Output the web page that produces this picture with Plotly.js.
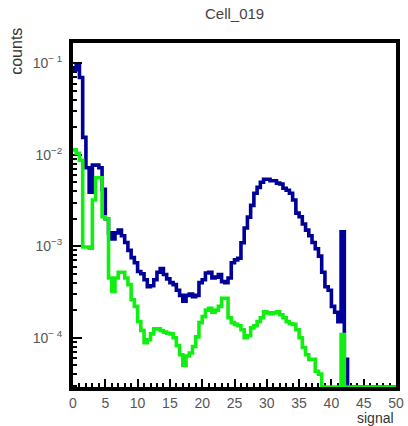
<!DOCTYPE html>
<html>
<head>
<meta charset="utf-8">
<script src="https://cdn.plot.ly/plotly-3.0.1.min.js"></script>
<style>html,body{margin:0;padding:0;background:#fff;}#chart{width:408px;height:426px;}</style>
</head>
<body>
<div id="chart"></div>
<script>
// Histogram definition: 100 bins of width 0.5 starting at 0
const binLow = 0;
const binWidth = 0.5;

// Bin contents (dark blue histogram)
const blueCounts = [
  0.085, 0.095, 0.070, 0.0155, 0.0072, 0.0039, 0.0077, 0.0077, 0.0072, 0.0042,
  0.0020, 0.0014, 0.0012, 0.0014, 0.0015, 0.0013, 0.0011, 0.00090, 0.00075, 0.00066,
  0.00053, 0.00050, 0.00043, 0.00036, 0.00037, 0.00043, 0.00052, 0.00057, 0.00049, 0.00044,
  0.00040, 0.00038, 0.00033, 0.00029, 0.00025, 0.00029, 0.00030, 0.00028, 0.00029, 0.00040,
  0.00043, 0.00051, 0.00052, 0.00045, 0.00046, 0.00049, 0.00041, 0.00040, 0.00045, 0.00066,
  0.00071, 0.00074, 0.00109, 0.00158, 0.00208, 0.0028, 0.0038, 0.0044, 0.0050, 0.0054,
  0.0054, 0.0052, 0.0052, 0.0049, 0.0048, 0.0043, 0.0041, 0.0038, 0.0032, 0.0023,
  0.0021, 0.00175, 0.0015, 0.0013, 0.0011, 0.00094, 0.00078, 0.00052, 0.00036, 0.00033,
  0.00022, 0.00019, 0.00015, 0.00144, 0.000058, 0, 0, 0, 0, 0,
  0, 0, 0, 0, 0, 0, 0, 0, 0, 0
];

// Bin contents (green histogram)
const greenCounts = [
  0.0113, 0.0104, 0.0087, 0.00098, 0.00098, 0.00095, 0.0032, 0.0056, 0.0056, 0.0021,
  0.0020, 0.00045, 0.00032, 0.00045, 0.00052, 0.00052, 0.00045, 0.00038, 0.00026, 0.00022,
  0.00015, 0.00012, 0.000088, 0.000095, 0.00011, 0.000125, 0.000125, 0.00012, 0.000115, 0.000112,
  0.00011, 0.00010, 0.000082, 0.000065, 0.000050, 0.000063, 0.000068, 0.000080, 0.000102, 0.000146,
  0.00017, 0.00020, 0.00021, 0.00019, 0.00020, 0.00022, 0.00027, 0.00027, 0.000165, 0.000146,
  0.00014, 0.000135, 0.000122, 0.00010, 0.000105, 0.000128, 0.000135, 0.00015, 0.000165, 0.000192,
  0.000187, 0.000183, 0.000187, 0.000192, 0.000178, 0.000165, 0.00015, 0.000142, 0.00014, 0.000122,
  0.00010, 0.000078, 0.000065, 0.000058, 0.000058, 0.000043, 0.000040, 0, 0, 0,
  0, 0, 0, 0.000108, 0, 0, 0, 0, 0, 0,
  0, 0, 0, 0, 0, 0, 0, 0, 0, 0
];

// Axis labels
const chartTitle = "Cell_019";
const xTitle = "signal";
const yTitle = "counts";
const xRange = [0, 50];
const yLogRange = [-4.539, -0.778];
const yTickVals = [1e-4, 1e-3, 1e-2, 1e-1];
const yTickText = ["10<sup>\u2212 4</sup>", "10<sup>\u22123</sup>", "10<sup>\u22122</sup>", "10<sup>\u2212 1</sup>"];

const yFloor = Math.pow(10, yLogRange[0]);

function stepTrace(counts, color, name, width) {
  const xs = [], ys = [];
  for (let i = 0; i < counts.length; i++) {
    xs.push(binLow + i * binWidth);
    ys.push(Math.max(counts[i], yFloor)); // empty bins drawn on the frame floor, as ROOT does
  }
  xs.push(binLow + counts.length * binWidth);
  ys.push(Math.max(counts[counts.length - 1], yFloor));
  return {
    x: xs, y: ys, type: 'scatter', mode: 'lines', name: name,
    line: {shape: 'hv', color: color, width: width},
    hoverinfo: 'skip', showlegend: false
  };
}

// minor tick positions for log axis (2..9 per decade)
const yMinor = [];
for (let d = -5; d <= -1; d++) {
  for (let m = 2; m <= 9; m++) yMinor.push(m * Math.pow(10, d));
}

const txtColor = '#555555';
const fontFam = 'Liberation Sans, Arial, sans-serif';

const data = [
  stepTrace(blueCounts, '#000099', 'blue', 3.6),
  stepTrace(greenCounts, '#11ee11', 'green', 3.6)
];

const layout = {
  width: 408, height: 426,
  margin: {l: 73, r: 12, t: 43, b: 39, pad: 0},
  paper_bgcolor: '#ffffff', plot_bgcolor: '#ffffff',
  font: {family: fontFam, size: 14, color: txtColor},
  title: {text: chartTitle, x: 0.575, xanchor: 'center', y: 0.967, yanchor: 'middle',
          font: {family: fontFam, size: 15, color: '#444444'}},
  xaxis: {
    range: xRange, showgrid: false, zeroline: false,
    showline: true, linecolor: '#000', linewidth: 4, mirror: true,
    ticks: 'inside', ticklen: 8, tickwidth: 2, tickcolor: '#000',
    tick0: 0, dtick: 5,
    minor: {ticks: 'inside', ticklen: 4, tickwidth: 2, tickcolor: '#000', dtick: 1, showgrid: false},
    tickfont: {family: fontFam, size: 14, color: txtColor},
    layer: 'below traces'
  },
  yaxis: {
    type: 'log', range: yLogRange, showgrid: false, zeroline: false,
    showline: true, linecolor: '#000', linewidth: 4, mirror: true,
    ticks: 'inside', ticklen: 9, tickwidth: 2, tickcolor: '#000',
    tickmode: 'array', tickvals: yTickVals, ticktext: yTickText,
    minor: {ticks: 'inside', ticklen: 4, tickwidth: 2, tickcolor: '#000', tickmode: 'array', tickvals: yMinor, showgrid: false},
    tickfont: {family: fontFam, size: 14, color: txtColor},
    ticklabelstandoff: 4,
    layer: 'below traces'
  },
  annotations: [
    {text: yTitle, xref: 'paper', yref: 'paper', x: -0.175, y: 1.05, xanchor: 'center', yanchor: 'top',
     textangle: -90, showarrow: false, font: {family: fontFam, size: 16, color: '#333333'}},
    {text: xTitle, xref: 'paper', yref: 'paper', x: 1.0, y: -0.062, xanchor: 'right', yanchor: 'top',
     showarrow: false, font: {family: fontFam, size: 14, color: '#333333'}}
  ]
};

Plotly.newPlot('chart', data, layout, {staticPlot: true, displayModeBar: false});
</script>
</body>
</html>
